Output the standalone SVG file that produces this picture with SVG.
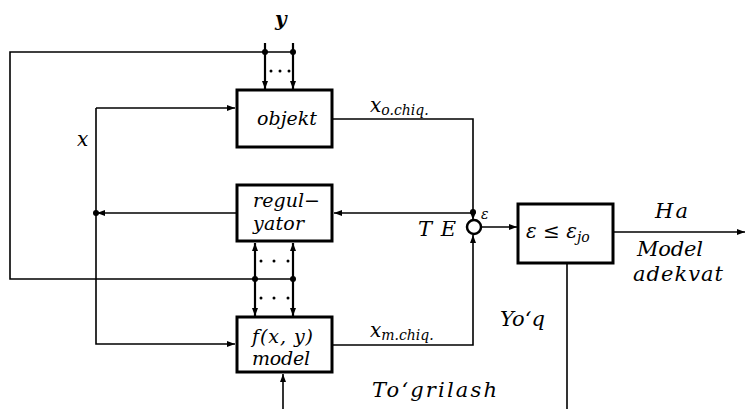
<svg xmlns="http://www.w3.org/2000/svg" width="746" height="409" viewBox="0 0 746 409">
<defs>
<marker id="ah" markerUnits="userSpaceOnUse" markerWidth="8" markerHeight="6" refX="8" refY="3" orient="auto">
<path d="M0,0 L8,3 L0,6 z" fill="#000"/>
</marker>
<style>
.box{fill:#fff;stroke:#000;stroke-width:3}
.ln{fill:none;stroke:#000;stroke-width:1.6}
.thk{fill:none;stroke:#000;stroke-width:2.2}
.t{font-family:"DejaVu Serif","Liberation Serif",serif;font-style:italic;fill:#000}
.dot{fill:#000}
</style>
</defs>
<rect width="746" height="409" fill="#fff"/>
<g id="connectors">
<path class="ln" d="M293,52 L10,52 L10,279 L293,279"/>
<path class="thk" d="M265,43 L265,89" marker-end="url(#ah)"/>
<path class="thk" d="M293,43 L293,89" marker-end="url(#ah)"/>
<path class="ln" d="M96,108 L96,344 L235,344" marker-end="url(#ah)"/>
<path class="ln" d="M96,108 L235,108" marker-end="url(#ah)"/>
<path class="ln" d="M236,213 L97,213" marker-end="url(#ah)"/>
<path class="thk" d="M255,279 L255,243" marker-end="url(#ah)"/>
<path class="thk" d="M255,279 L255,316" marker-end="url(#ah)"/>
<path class="thk" d="M293,279 L293,243" marker-end="url(#ah)"/>
<path class="thk" d="M293,279 L293,316" marker-end="url(#ah)"/>
<path class="ln" d="M332,119 L473,119 L473,220" marker-end="url(#ah)"/>
<path class="ln" d="M473,213 L334,213" marker-end="url(#ah)"/>
<path class="ln" d="M332,345 L473,345 L473,235" marker-end="url(#ah)"/>
<path class="ln" d="M481,227 L517,227" marker-end="url(#ah)"/>
<path class="ln" d="M613,232 L745,232" marker-end="url(#ah)"/>
<path class="ln" d="M567,263 L567,409"/>
<path class="ln" d="M283,409 L283,374" marker-end="url(#ah)"/>
<circle class="dot" cx="265" cy="52" r="3"/>
<circle class="dot" cx="293" cy="52" r="3"/>
<circle class="dot" cx="96" cy="213" r="3"/>
<circle class="dot" cx="255" cy="279" r="3"/>
<circle class="dot" cx="293" cy="279" r="3"/>
<circle class="dot" cx="473" cy="212" r="3"/>
<g class="dot">
<circle cx="271" cy="71" r="1.5"/><circle cx="280" cy="71" r="1.5"/><circle cx="289" cy="71" r="1.5"/>
<circle cx="261" cy="261" r="1.5"/><circle cx="274" cy="261" r="1.5"/><circle cx="288" cy="261" r="1.5"/>
<circle cx="261" cy="298" r="1.5"/><circle cx="274" cy="298" r="1.5"/><circle cx="288" cy="298" r="1.5"/>
</g>
<text class="t" x="275" y="26" font-size="20" font-weight="bold">y</text>
<text class="t" x="77" y="146" font-size="20">x</text>
<text class="t" x="370" y="112" font-size="20">x<tspan font-size="14" dy="3">o.chiq.</tspan></text>
<text class="t" x="370" y="337" font-size="20">x<tspan font-size="14" dy="3">m.chiq.</tspan></text>
<text class="t" x="418" y="236" font-size="21" textLength="38" lengthAdjust="spacing">TE</text>
<text class="t" x="481" y="219" font-size="14">ε</text>
<text class="t" x="655" y="218" font-size="21" textLength="33" lengthAdjust="spacing">Ha</text>
<text class="t" x="637" y="256" font-size="21" textLength="66" lengthAdjust="spacing">Model</text>
<text class="t" x="633" y="281" font-size="21" textLength="90" lengthAdjust="spacing">adekvat</text>
<text class="t" x="500" y="326" font-size="21" textLength="45" lengthAdjust="spacing">Yo‘q</text>
<text class="t" x="372" y="397" font-size="21" textLength="125" lengthAdjust="spacing">To‘grilash</text>
</g>
<g id="objekt">
<rect class="box" x="237" y="90" width="95" height="57"/>
<text class="t" x="257" y="125" font-size="19" textLength="60" lengthAdjust="spacing">objekt</text>
</g>
<g id="regulyator">
<rect class="box" x="237" y="185" width="95" height="56"/>
<text class="t" x="253" y="207" font-size="19" textLength="67" lengthAdjust="spacing">regul−</text>
<text class="t" x="253" y="230" font-size="19" textLength="51" lengthAdjust="spacing">yator</text>
</g>
<g id="model">
<rect class="box" x="237" y="317" width="95" height="55"/>
<text class="t" x="252" y="343" font-size="19" textLength="61" lengthAdjust="spacing">f(x, y)</text>
<text class="t" x="252" y="365" font-size="19" textLength="58" lengthAdjust="spacing">model</text>
</g>
<g id="TE">
<circle cx="474" cy="227" r="7" fill="#fff" stroke="#000" stroke-width="2.5"/>
</g>
<g id="check">
<rect class="box" x="518" y="204" width="95" height="59"/>
<text class="t" x="526" y="238" font-size="20">ε ≤ ε<tspan font-size="14" dy="4">jo</tspan></text>
</g>
</svg>
